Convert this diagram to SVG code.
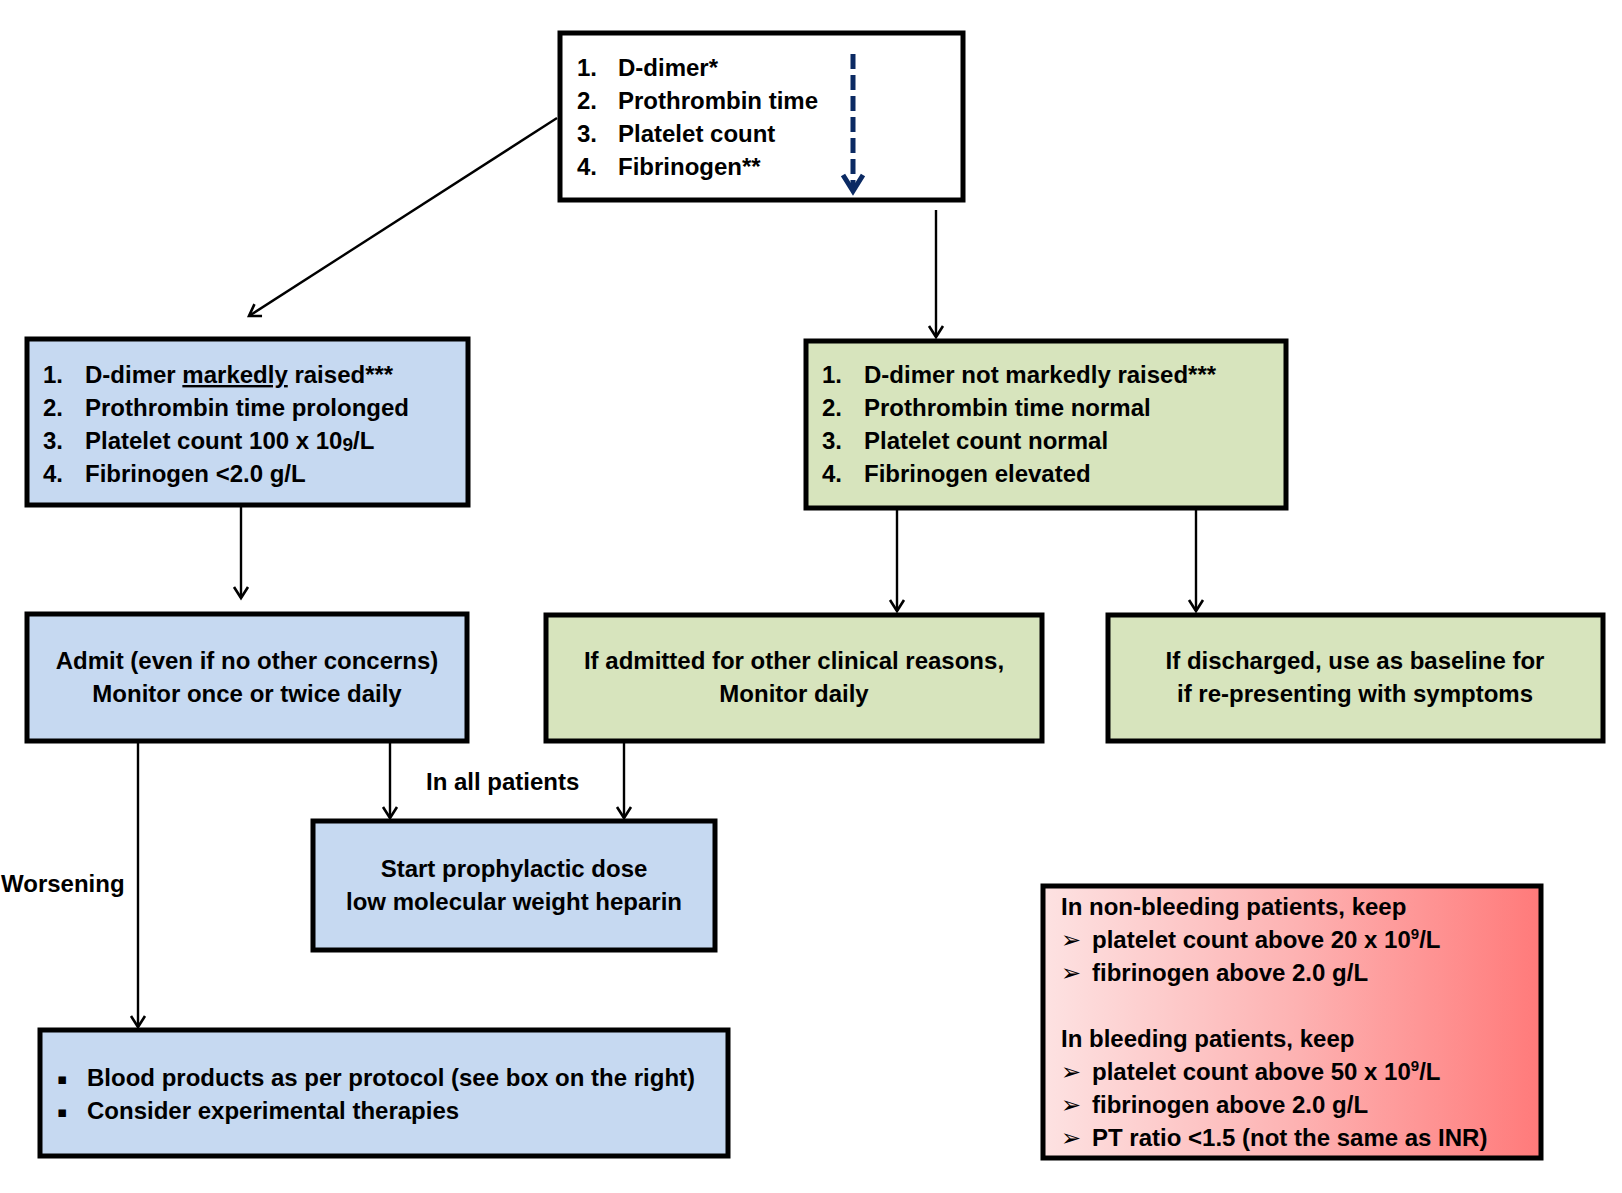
<svg xmlns="http://www.w3.org/2000/svg" width="1622" height="1193" viewBox="0 0 1622 1193">
<style>
text { font-family: "Liberation Sans", Arial, sans-serif; font-size: 24px; font-weight: bold; fill: #000; }
.box { stroke: #000; stroke-width: 5; }
.blue { fill: #C6D9F1; }
.green { fill: #D7E4BD; }
.white { fill: #FFFFFF; }
.conn { stroke: #000; stroke-width: 2.4; fill: none; marker-end: url(#ah); }
.mid { text-anchor: middle; }
.sym { font-family: "DejaVu Sans", sans-serif; font-weight: bold; }
.bul { font-family: "DejaVu Sans", sans-serif; font-weight: normal; font-size: 15px; }
</style>
<defs>
<marker id="ah" markerUnits="userSpaceOnUse" markerWidth="30" markerHeight="30" refX="0" refY="0" viewBox="-15 -15 30 30" orient="auto" overflow="visible">
<path d="M -11 -7 L 0 0 L -11 7" fill="none" stroke="#000" stroke-width="2.6" stroke-linejoin="miter"/>
</marker>
<linearGradient id="redgrad" x1="0" y1="0" x2="1" y2="0">
<stop offset="0" stop-color="#FDE2E2"/>
<stop offset="0.5" stop-color="#FDB3B3"/>
<stop offset="1" stop-color="#FF7A7A"/>
</linearGradient>
</defs>

<g id="connectors">
<line class="conn" x1="557" y1="118" x2="249" y2="316"/>
<line class="conn" x1="936" y1="210" x2="936" y2="337"/>
<line class="conn" x1="241" y1="507" x2="241" y2="598"/>
<line class="conn" x1="897" y1="510" x2="897" y2="611"/>
<line class="conn" x1="1196" y1="510" x2="1196" y2="611"/>
<line class="conn" x1="390" y1="743" x2="390" y2="818"/>
<line class="conn" x1="624" y1="743" x2="624" y2="818"/>
<line class="conn" x1="138" y1="743" x2="138" y2="1027"/>
<text x="426" y="790">In all patients</text>
<text x="1" y="892">Worsening</text>
</g>

<g id="node-tests">
<rect class="box white" x="560" y="33" width="403" height="167"/>
<text x="577" y="76">1.</text><text x="618" y="76">D-dimer*</text>
<text x="577" y="109">2.</text><text x="618" y="109">Prothrombin time</text>
<text x="577" y="142">3.</text><text x="618" y="142">Platelet count</text>
<text x="577" y="175">4.</text><text x="618" y="175">Fibrinogen**</text>
<line x1="853" y1="54" x2="853" y2="188" stroke="#0B2A63" stroke-width="5" stroke-dasharray="15 6"/>
<polyline points="843,175 853,191 863,175" fill="none" stroke="#0B2A63" stroke-width="5" stroke-linejoin="miter"/>
</g>

<g id="node-abnormal">
<rect class="box blue" x="27" y="339" width="441" height="166"/>
<text x="43" y="383">1.</text><text x="85" y="383">D-dimer <tspan text-decoration="underline">markedly</tspan> raised***</text>
<text x="43" y="416">2.</text><text x="85" y="416">Prothrombin time prolonged</text>
<text x="43" y="449">3.</text><text x="85" y="449">Platelet count 100 x 10<tspan font-size="19" dy="2">9</tspan><tspan dy="-2">/L</tspan></text>
<text x="43" y="482">4.</text><text x="85" y="482">Fibrinogen &lt;2.0 g/L</text>
</g>

<g id="node-normal">
<rect class="box green" x="806" y="341" width="480" height="167"/>
<text x="822" y="383">1.</text><text x="864" y="383">D-dimer not markedly raised***</text>
<text x="822" y="416">2.</text><text x="864" y="416">Prothrombin time normal</text>
<text x="822" y="449">3.</text><text x="864" y="449">Platelet count normal</text>
<text x="822" y="482">4.</text><text x="864" y="482">Fibrinogen elevated</text>
</g>

<g id="node-admit">
<rect class="box blue" x="27" y="614" width="440" height="127"/>
<text class="mid" x="247" y="669">Admit (even if no other concerns)</text>
<text class="mid" x="247" y="702">Monitor once or twice daily</text>
</g>

<g id="node-if-admitted">
<rect class="box green" x="546" y="615" width="496" height="126"/>
<text class="mid" x="794" y="669">If admitted for other clinical reasons,</text>
<text class="mid" x="794" y="702">Monitor daily</text>
</g>

<g id="node-if-discharged">
<rect class="box green" x="1108" y="615" width="495" height="126"/>
<text class="mid" x="1355" y="669">If discharged, use as baseline for</text>
<text class="mid" x="1355" y="702">if re-presenting with symptoms</text>
</g>

<g id="node-lmwh">
<rect class="box blue" x="313" y="821" width="402" height="129"/>
<text class="mid" x="514" y="877">Start prophylactic dose</text>
<text class="mid" x="514" y="910">low molecular weight heparin</text>
</g>

<g id="node-blood-products">
<rect class="box blue" x="40" y="1030" width="688" height="126"/>
<text class="bul" x="57" y="1084">▪</text><text x="87" y="1086">Blood products as per protocol (see box on the right)</text>
<text class="bul" x="57" y="1117">▪</text><text x="87" y="1119">Consider experimental therapies</text>
</g>

<g id="node-thresholds">
<rect class="box" fill="url(#redgrad)" x="1043" y="886" width="498" height="272"/>
<text x="1061" y="915">In non-bleeding patients, keep</text>
<text class="sym" x="1061" y="948" font-size="22">➢</text><text x="1092" y="948">platelet count above 20 x 10<tspan font-size="15" dy="-9">9</tspan><tspan dy="9">/L</tspan></text>
<text class="sym" x="1061" y="981" font-size="22">➢</text><text x="1092" y="981">fibrinogen above 2.0 g/L</text>
<text x="1061" y="1047">In bleeding patients, keep</text>
<text class="sym" x="1061" y="1080" font-size="22">➢</text><text x="1092" y="1080">platelet count above 50 x 10<tspan font-size="15" dy="-9">9</tspan><tspan dy="9">/L</tspan></text>
<text class="sym" x="1061" y="1113" font-size="22">➢</text><text x="1092" y="1113">fibrinogen above 2.0 g/L</text>
<text class="sym" x="1061" y="1146" font-size="22">➢</text><text x="1092" y="1146">PT ratio &lt;1.5 (not the same as INR)</text>
</g>
</svg>
